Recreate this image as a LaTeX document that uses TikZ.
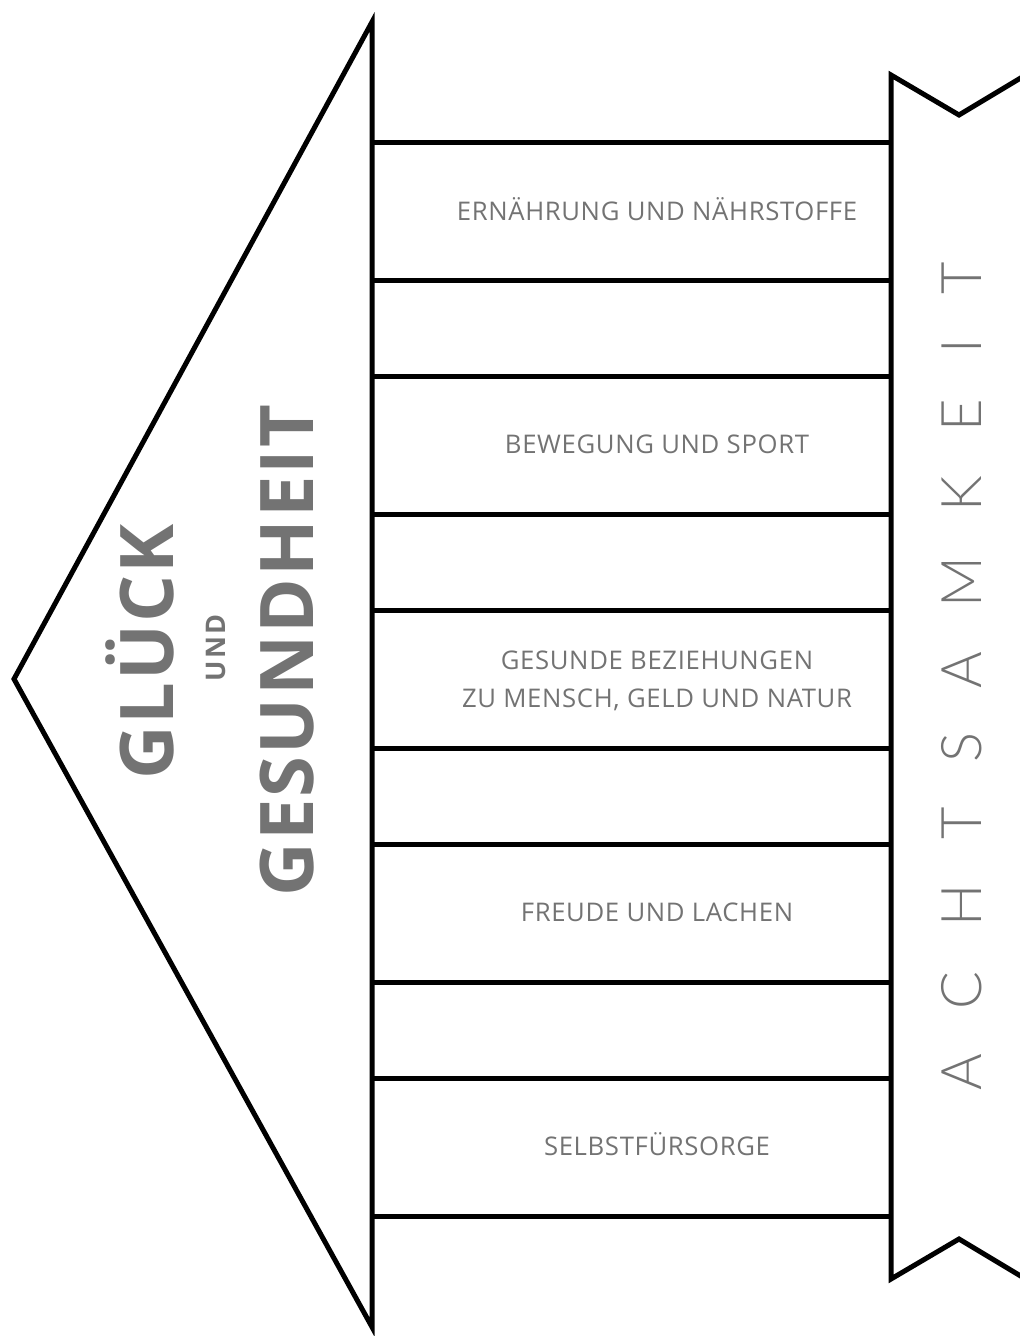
\documentclass[tikz,border=0pt]{standalone}
\usepackage{fontspec}
\setmainfont{Open Sans}
\newfontfamily\bodyfont[LetterSpace=2.5]{Open Sans}
\newfontfamily\bigfont[LetterSpace=3]{Open Sans}
\newfontfamily\undfont[LetterSpace=8]{Open Sans}
\newfontfamily\thinfont[LetterSpace=80]{Lato Light}
\definecolor{txtgray}{HTML}{737373}
\tikzset{
  frame/.style={line width=5pt, draw=black, line join=miter, miter limit=10},
  bar/.style={line width=5pt, draw=black},
  boxtext/.style={text=txtgray, font=\bodyfont\fontsize{25.7}{36}\selectfont, inner sep=0pt, anchor=base},
  bigtext/.style={text=txtgray, font=\bigfont\bfseries\fontsize{74}{80}\selectfont, inner sep=0pt, rotate=90, anchor=base},
  smalltext/.style={text=txtgray, font=\undfont\bfseries\fontsize{27}{30}\selectfont, inner sep=0pt, rotate=90, anchor=base},
  thintext/.style={text=txtgray, font=\thinfont\fontsize{56}{60}\selectfont, inner sep=0pt, rotate=90, anchor=base}
}
\begin{document}
\begin{tikzpicture}[x=1pt,y=-1pt]
\useasboundingbox (0,0) rectangle (1020,1336);
% arrow / roof
\coordinate (top) at (372,22);
\coordinate (tip) at (14,679);
\coordinate (bot) at (372,1327);
\draw[frame] (top) -- (tip) -- (bot) -- cycle;
% bars
\foreach \y [count=\i] in {142,280,376,514,610,748,844,982,1078,1216}{
  \coordinate (bl\i) at (372,\y);
  \coordinate (br\i) at (890,\y);
  \draw[bar] (bl\i) -- (br\i);
}
% banner
\coordinate (b1) at (1024,76);
\coordinate (b2) at (959,115);
\coordinate (b3) at (891,75);
\coordinate (b4) at (891,1279);
\coordinate (b5) at (959,1239);
\coordinate (b6) at (1024,1278);
\draw[frame] (b1) -- (b2) -- (b3) -- (b4) -- (b5) -- (b6);
% texts
\node[boxtext] (t1) at (657,220) {ERNÄHRUNG UND NÄHRSTOFFE};
\node[boxtext] (t2) at (657,453) {BEWEGUNG UND SPORT};
\node[boxtext] (t3a) at (657,669) {GESUNDE BEZIEHUNGEN};
\node[boxtext] (t3b) at (657,707) {ZU MENSCH, GELD UND NATUR};
\node[boxtext] (t4) at (657,921) {FREUDE UND LACHEN};
\node[boxtext] (t5) at (657,1155) {SELBSTFÜRSORGE};
\node[bigtext] (g1) at (173,652) {GLÜCK};
\node[smalltext] (g2) at (225,648) {UND};
\node[bigtext] (g3) at (313,650.5) {GESUNDHEIT};
\node[thintext] (a1) at (981,676) {ACHTSAMKEIT};
\end{tikzpicture}
\end{document}
